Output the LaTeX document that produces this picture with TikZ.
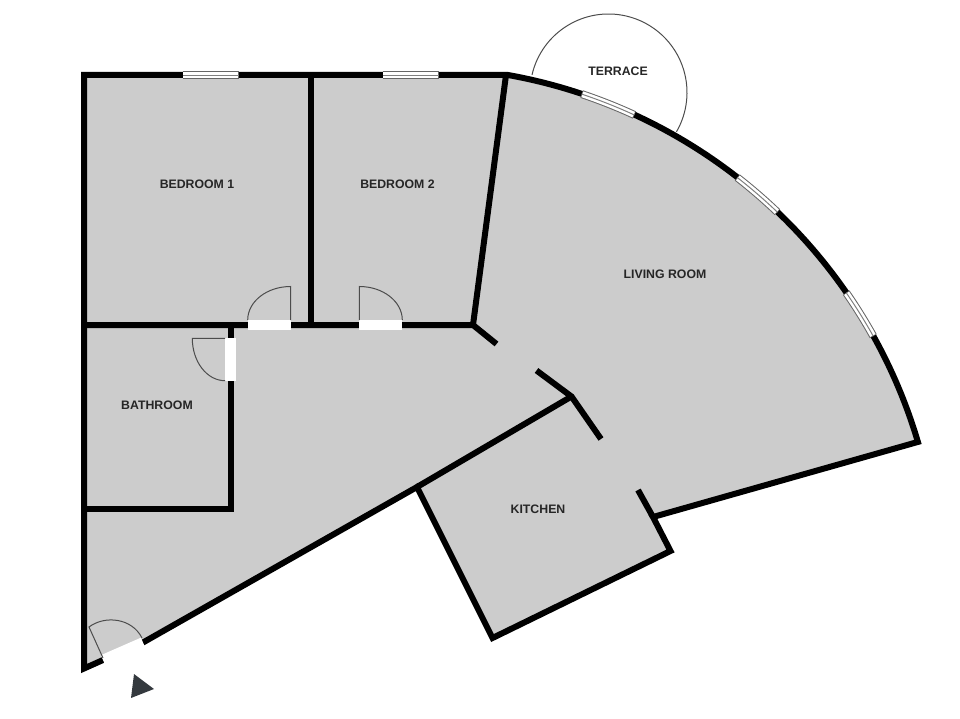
\documentclass[tikz,border=0pt]{standalone}
\usepackage{fontspec}
\setmainfont{Liberation Sans}
\definecolor{markgrey}{HTML}{34393E}
\tikzset{%
  % Specifications for style of the plan:
        wall/.style = {draw=black, line width=6pt, miter limit=20},
      gapway/.style = {draw=white, line width=10.5pt},
   windowout/.style = {draw=black!60, line width=8pt},
    windowin/.style = {draw=white, line width=6pt},
   windowmid/.style = {draw=black!50, line width=1pt},
    doorline/.style = {draw=black!70, line width=1pt},
        room/.style = {font=\bfseries\fontsize{12.3}{14}\selectfont, text=black!85, inner sep=0pt},
}
\begin{document}
\begin{tikzpicture}[x=1pt, y=1pt, yscale=-1]
  \useasboundingbox (0,0) rectangle (960,719);

  % Specification of floor and outer walls
  \filldraw[wall, fill=black!20]
    (84,75) -- (508,75) arc[start angle=-79.83, end angle=-16.5, radius=524]
    -- (653,517) -- (670.5,551) -- (492.5,638) -- (417,487) -- (143,642.5)
    -- (103,660) -- (84,668.5) -- cycle;

  % Specification of inner walls
  \draw[wall] (310.5,75) -- (310.5,325);
  \draw[wall] (84,325) -- (473,325) -- (506,75);
  \draw[wall] (230.5,325) -- (230.5,509) -- (84,509);
  \draw[wall] (473,325) -- (496.5,344);
  \draw[wall] (536.5,370.5) -- (571.5,396.5) -- (601,439);
  \draw[wall] (417,487) -- (571.5,396.5);
  \draw[wall] (638,490) -- (653,517);

  % Specification of door openings
  \draw[gapway] (247.7,325) -- (290.7,325);
  \draw[gapway] (359.3,325) -- (402.3,325);
  \draw[gapway] (230.5,338.3) -- (230.5,380.7);
  \draw[gapway] (103,660) -- (143,642.5);

  % Specification of door leaves
  \draw[doorline] (247.7,320) arc[start angle=180, end angle=270, x radius=43, y radius=33.5] -- (290.7,320);
  \draw[doorline] (359.3,320) -- (359.3,286.5) arc[start angle=270, end angle=360, x radius=43, y radius=33.5];
  \draw[doorline] (225,338.3) -- (192.3,338.3) arc[start angle=180, end angle=90, x radius=32.7, y radius=42.4];
  \draw[doorline] (103,658) -- (89,627) .. controls (105,615) and (132,618) .. (142,638);

  % Specification of windows
  \foreach \xa/\xb in {182.5/238.5, 382.5/438.5} {
    \draw[windowout] (\xa,75.3) -- (\xb,75.3);
    \draw[windowin] (\xa+0.7,75.3) -- (\xb-0.7,75.3);
    \draw[windowmid] (\xa,75.3) -- (\xb,75.3);
  }
  \foreach \aa/\ab in {-71.5/-65.3, -52.1/-46.3, -34.7/-29.1} {
    \draw[windowout] (415.4,591) ++(\aa:524) arc[start angle=\aa, end angle=\ab, radius=524];
    \draw[windowin] (415.4,591) ++(\aa+0.08:524) arc[start angle=\aa+0.08, end angle=\ab-0.08, radius=524];
    \draw[windowmid] (415.4,591) ++(\aa:524) arc[start angle=\aa, end angle=\ab, radius=524];
  }

  % Specification of terrace
  \draw[doorline] (608.5,92.5) ++(-167:78.5) arc[start angle=-167, end angle=30, radius=78.5];

  % Specification of entrance mark
  \fill[markgrey] (134,674) -- (154,689) -- (131,698) -- cycle;

  % Specification of room names
  \node (bedroomone) [room] at (197,184)   {BEDROOM 1};
  \node (bedroomtwo) [room] at (397.5,184) {BEDROOM 2};
  \node (livingroom) [room] at (665,274)   {LIVING ROOM};
  \node (bathroom)   [room] at (157,405)   {BATHROOM};
  \node (kitchen)    [room] at (538,509.5) {KITCHEN};
  \node (terrace)    [room] at (618,71)    {TERRACE};
\end{tikzpicture}
\end{document}
